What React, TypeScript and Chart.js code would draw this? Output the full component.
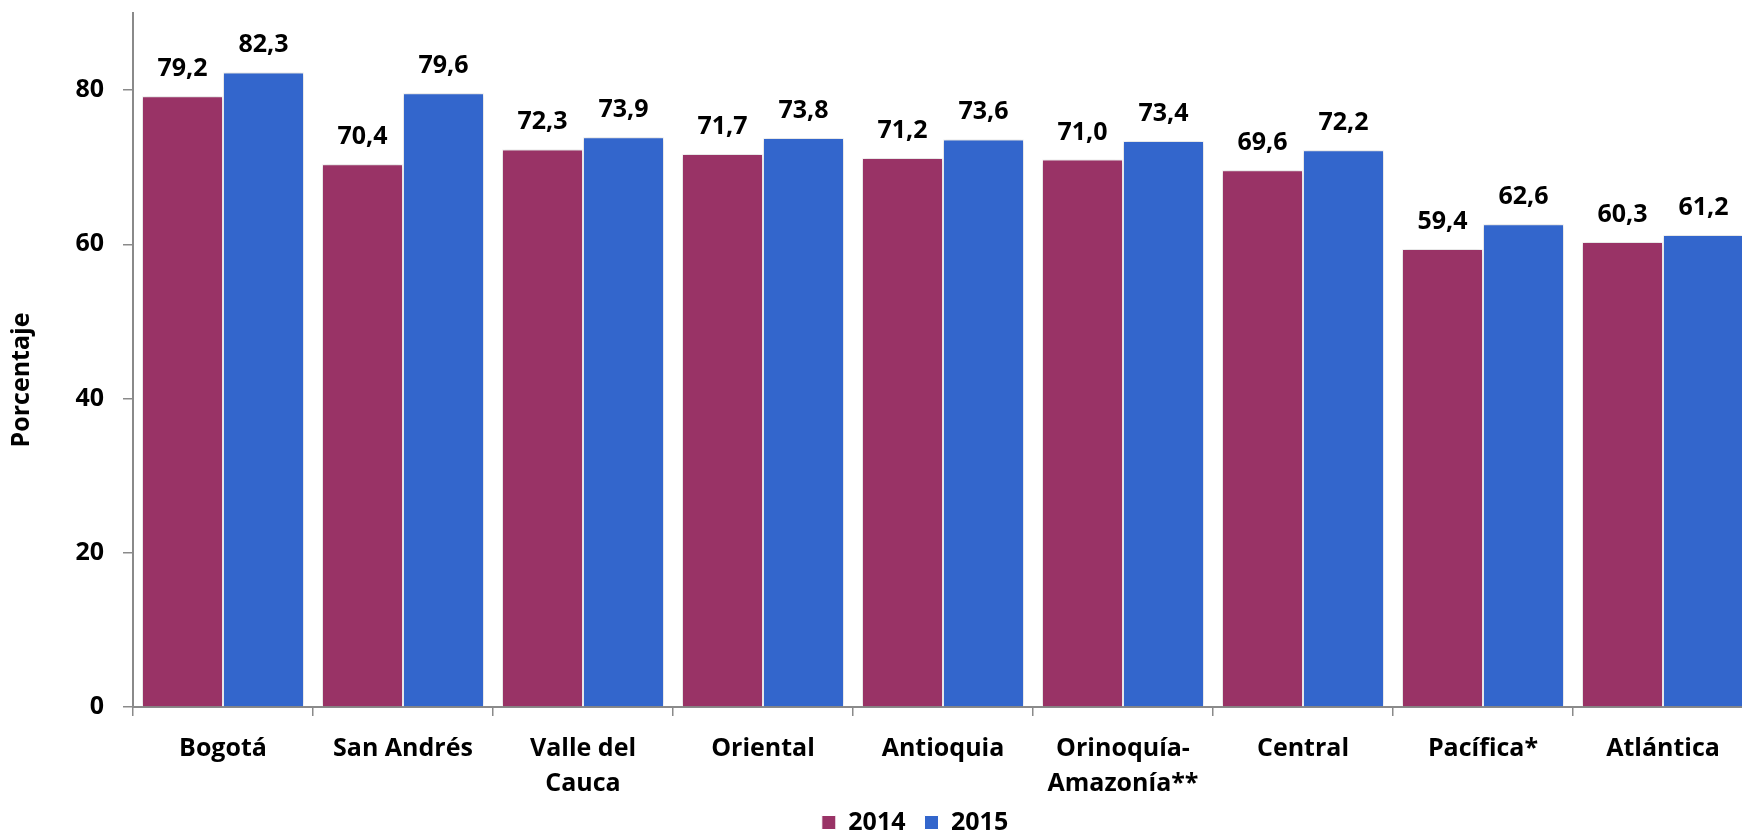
import React, { useEffect, useRef } from "react";
import { Chart, registerables } from "chart.js";

Chart.register(...registerables);

const categories: (string | string[])[] = [
  "Bogotá",
  "San Andrés",
  ["Valle del", "Cauca"],
  "Oriental",
  "Antioquia",
  ["Orinoquía-", "Amazonía**"],
  "Central",
  "Pacífica*",
  "Atlántica",
];
const values2014 = [79.2, 70.4, 72.3, 71.7, 71.2, 71.0, 69.6, 59.4, 60.3];
const values2015 = [82.3, 79.6, 73.9, 73.8, 73.6, 73.4, 72.2, 62.6, 61.2];
const seriesLabels = ["2014", "2015"];
const seriesColors = ["#993366", "#3366CC"];
const yTickValues = [0, 20, 40, 60, 80];
const yMax = 90;
const yTitle = "Porcentaje";

const FONT = "'Open Sans', 'DejaVu Sans', sans-serif";
const AXIS = "#8a8a8a";

const overlayPlugin = {
  id: "overlay",
  afterLayout(chart: any) {
    const lg = chart.legend;
    if (lg) lg.left -= 56;
  },
  beforeDatasetsDraw(chart: any) {
    const c = chart.ctx;
    c.save();
    c.shadowColor = "rgba(0,0,0,0.22)";
    c.shadowBlur = 6;
    c.shadowOffsetX = 0;
    c.shadowOffsetY = 0;
  },
  afterDatasetsDraw(chart: any) {
    const c = chart.ctx;
    c.restore();
    c.save();
    c.font = `bold 25px ${FONT}`;
    c.fillStyle = "#000";
    c.textAlign = "center";
    c.textBaseline = "alphabetic";
    chart.data.datasets.forEach((ds: any, i: number) => {
      const meta = chart.getDatasetMeta(i);
      meta.data.forEach((el: any, j: number) => {
        const v = ds.data[j] as number;
        c.fillText(v.toFixed(1).replace(".", ","), el.x, el.y - 20);
      });
    });
    c.translate(22, 380);
    c.rotate(-Math.PI / 2);
    c.textBaseline = "middle";
    c.fillText(yTitle, 0, 0);
    c.restore();
  },
};

export default function App() {
  const ref = useRef<HTMLCanvasElement | null>(null);

  useEffect(() => {
    if (!ref.current) return;
    Chart.defaults.font.family = FONT;
    const chart = new Chart(ref.current, {
      type: "bar",
      data: {
        labels: categories,
        datasets: [
          {
            label: seriesLabels[0],
            data: values2014,
            backgroundColor: seriesColors[0],
            borderColor: "#ffffff",
            borderWidth: 1,
          },
          {
            label: seriesLabels[1],
            data: values2015,
            backgroundColor: seriesColors[1],
            borderColor: "#ffffff",
            borderWidth: 1,
          },
        ],
      },
      options: {
        responsive: false,
        animation: false,
        events: [],
        layout: { padding: { top: 13, right: 7, left: 0, bottom: 0 } },
        datasets: {
          bar: { categoryPercentage: 0.9, barPercentage: 1.0 },
        },
        plugins: {
          tooltip: { enabled: false },
          title: { display: false },
          legend: {
            position: "bottom",
            fullSize: false,
            labels: {
              boxWidth: 14,
              boxHeight: 14,
              padding: 19,
              color: "#000",
              font: { size: 25, weight: "bold", family: FONT },
            },
          },
        },
        scales: {
          x: {
            afterFit: (s: any) => {
              s.height = 84;
              s.paddingLeft = 0;
              s.paddingRight = 0;
            },
            grid: {
              display: true,
              drawOnChartArea: false,
              drawTicks: true,
              tickLength: 9,
              color: AXIS,
              lineWidth: 1.5,
              offset: true,
            },
            border: { color: AXIS, width: 2 },
            ticks: {
              color: "#000",
              padding: 15,
              maxRotation: 0,
              autoSkip: false,
              font: { size: 25, weight: "bold", family: FONT, lineHeight: 1.4 },
            },
          },
          y: {
            min: 0,
            max: yMax,
            afterFit: (s: any) => {
              s.width = 133;
              s.paddingTop = 0;
              s.paddingBottom = 0;
            },
            afterBuildTicks: (s: any) => {
              s.ticks = yTickValues.map((v) => ({ value: v }));
            },
            grid: {
              display: true,
              drawOnChartArea: false,
              drawTicks: true,
              tickLength: 10,
              color: AXIS,
              lineWidth: 1.5,
            },
            border: { color: AXIS, width: 2 },
            ticks: {
              color: "#000",
              padding: 19,
              font: { size: 25, weight: "bold", family: FONT },
            },
            title: { display: false },
          },
        },
      },
      plugins: [overlayPlugin],
    } as any);
    return () => chart.destroy();
  }, []);

  return (
    <div
      style={{
        position: "fixed",
        left: 0,
        top: 0,
        width: "1742px",
        height: "834px",
        overflow: "hidden",
        background: "#fff",
      }}
    >
      <canvas ref={ref} width={1760} height={845} style={{ display: "block" }} />
    </div>
  );
}
